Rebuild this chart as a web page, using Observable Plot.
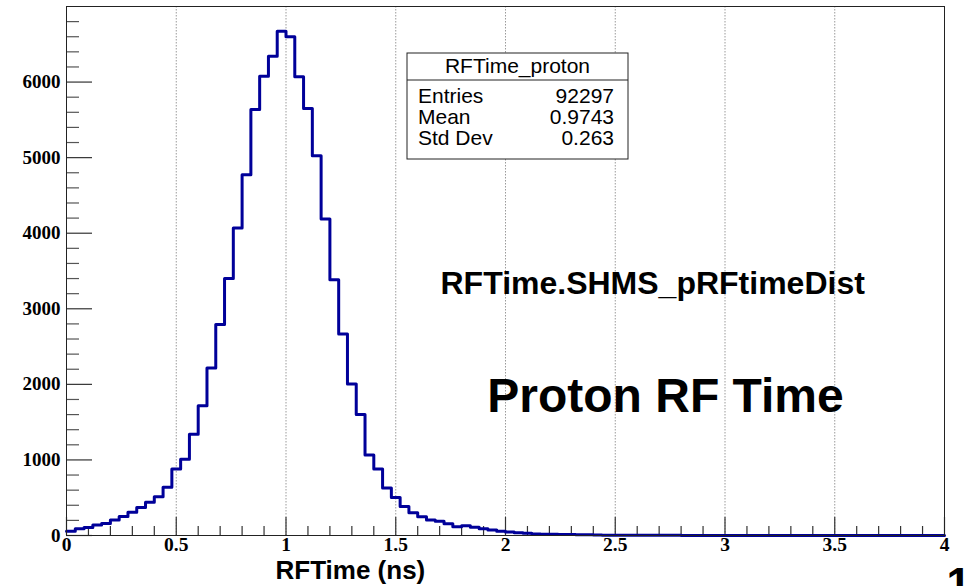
<!DOCTYPE html>
<html><head><meta charset="utf-8">
<script src="https://cdn.jsdelivr.net/npm/d3@7"></script>
<script src="https://cdn.jsdelivr.net/npm/@observablehq/plot@0.6"></script>
<style>html,body{margin:0;padding:0;background:#fff;overflow:hidden}</style>
</head><body><div id="chart"></div>
<script>
// ---- data ----
const binLow = 0;
const binHigh = 4;
const counts = [
  55, 90, 105, 140, 160, 205, 250, 307, 370, 440,
  512, 638, 881, 1009, 1340, 1717, 2218, 2793, 3402, 4069,
  4775, 5636, 6077, 6342, 6673, 6599, 6069, 5649, 5026, 4188,
  3384, 2665, 2005, 1600, 1066, 879, 630, 504, 385, 302,
  249, 205, 188, 155, 117, 128, 110, 88, 73, 55,
  46, 38, 30, 21, 18, 15, 14, 12, 11, 10,
  5, 4, 4, 3, 3, 3, 2, 2, 2, 2,
  1, 1, 1, 1, 1, 1, 0, 1, 0, 0,
  0, 1, 0, 0, 0, 0, 0, 0, 0, 0,
  0, 0, 0, 0, 0, 0, 0, 0, 0, 0
];
const xMajorTicks = [0, 0.5, 1, 1.5, 2, 2.5, 3, 3.5, 4];
const xMinorTicks = [0.1, 0.2, 0.3, 0.4, 0.6, 0.7, 0.8, 0.9, 1.1, 1.2, 1.3, 1.4, 1.6, 1.7, 1.8, 1.9,
  2.1, 2.2, 2.3, 2.4, 2.6, 2.7, 2.8, 2.9, 3.1, 3.2, 3.3, 3.4, 3.6, 3.7, 3.8, 3.9];
const xGridTicks = [0.5, 1, 1.5, 2, 2.5, 3, 3.5];
const yMajorTicks = [0, 1000, 2000, 3000, 4000, 5000, 6000];
const yMinorTicks = [200, 400, 600, 800, 1200, 1400, 1600, 1800, 2200, 2400, 2600, 2800,
  3200, 3400, 3600, 3800, 4200, 4400, 4600, 4800, 5200, 5400, 5600, 5800, 6200, 6400, 6600, 6800];
const statTitle = "RFTime_proton";
const statNames = ["Entries", "Mean", "Std Dev"];
const statValues = ["92297", "0.9743", "0.263"];
const histName = "RFTime.SHMS_pRFtimeDist";
const mainLabel = "Proton RF Time";
const xTitle = "RFTime (ns)";
const padNumber = "1";

// ---- build step outline from bins ----
const binWidth = (binHigh - binLow) / counts.length;
const steps = counts.map((c, i) => ({x: binLow + i * binWidth, y: c}));
steps.push({x: binHigh, y: counts[counts.length - 1]});

const sans = "Liberation Sans, Arial, Helvetica, sans-serif";
const serif = "Liberation Serif, Times New Roman, serif";

const plot = Plot.plot({
  width: 974,
  height: 586,
  marginLeft: 66,
  marginRight: 30,
  marginTop: 6,
  marginBottom: 51,
  style: {fontFamily: serif, fontSize: "19px", fontWeight: "bold", background: "#fff", color: "#000"},
  x: {domain: [binLow, binHigh]},
  y: {domain: [0, 7000]},
  marks: [
    Plot.ruleX(xGridTicks, {x: d => d, stroke: "#9a9a9a", strokeDasharray: "1.5,1.5", strokeWidth: 1}),
    Plot.ruleX(xMajorTicks, {x: d => d, y1: 0, y2: 0, insetBottom: 18, stroke: "#333", strokeWidth: 1.2}),
    Plot.ruleX(xMinorTicks, {x: d => d, y1: 0, y2: 0, insetBottom: 9, stroke: "#333", strokeWidth: 1.2}),
    Plot.ruleY(yMajorTicks, {y: d => d, x1: 0, x2: 0, insetRight: -26, stroke: "#333", strokeWidth: 1.2}),
    Plot.ruleY(yMinorTicks, {y: d => d, x1: 0, x2: 0, insetRight: -13, stroke: "#555", strokeWidth: 1.2}),
    Plot.axisY({ticks: yMajorTicks, tickSize: 0, tickPadding: 6, tickFormat: d => String(d), label: null, fontSize: 19}),
    Plot.axisX({ticks: xMajorTicks, tickSize: 0, tickPadding: 2, tickFormat: d => String(d), label: null, fontSize: 19.5}),
    Plot.line(steps, {x: "x", y: "y", curve: "step-after", stroke: "#000099", strokeWidth: 3}),
    Plot.frame({stroke: "#222", strokeWidth: 1}),
    Plot.text([histName], {frameAnchor: "top-left", dx: 374, dy: 287, lineAnchor: "bottom", textAnchor: "start",
      fontFamily: sans, fontWeight: "bold", fontSize: 32, fill: "#000"}),
    Plot.text([mainLabel], {frameAnchor: "top-left", dx: 599, dy: 405, lineAnchor: "bottom", textAnchor: "middle",
      fontFamily: sans, fontWeight: "bold", fontSize: 48, fill: "#000"}),
    Plot.text([xTitle], {frameAnchor: "top-left", dx: 209, dy: 572, lineAnchor: "bottom", textAnchor: "start",
      fontFamily: sans, fontWeight: "bold", fontSize: 26, fill: "#000"}),
    Plot.text([padNumber], {frameAnchor: "top-left", dx: 880, dy: 561, lineAnchor: "top", textAnchor: "start",
      fontFamily: sans, fontWeight: "bold", fontSize: 44, fill: "#000"})
  ]
});

// ---- statistics box (ROOT TPaveStats) ----
const svg = d3.select(plot);
const box = {left: 407, top: 53, right: 628, sep: 80, bottom: 159};
const g = svg.append("g").attr("font-family", sans).attr("font-weight", "normal").attr("font-size", 21)
  .attr("fill", "#000");
g.append("rect").attr("x", box.left).attr("y", box.top)
  .attr("width", box.right - box.left).attr("height", box.bottom - box.top)
  .attr("fill", "#fff").attr("stroke", "#222").attr("stroke-width", 1);
g.append("line").attr("x1", box.left).attr("x2", box.right).attr("y1", box.sep).attr("y2", box.sep)
  .attr("stroke", "#222").attr("stroke-width", 1);
g.append("text").attr("x", (box.left + box.right) / 2).attr("y", 73).attr("text-anchor", "middle").text(statTitle);
const rowBase = [103, 124, 145];
statNames.forEach((n, i) => {
  g.append("text").attr("x", box.left + 11).attr("y", rowBase[i]).attr("text-anchor", "start").text(n);
  g.append("text").attr("x", box.right - 14).attr("y", rowBase[i]).attr("text-anchor", "end").text(statValues[i]);
});

document.getElementById("chart").append(plot);
</script>
</body></html>
